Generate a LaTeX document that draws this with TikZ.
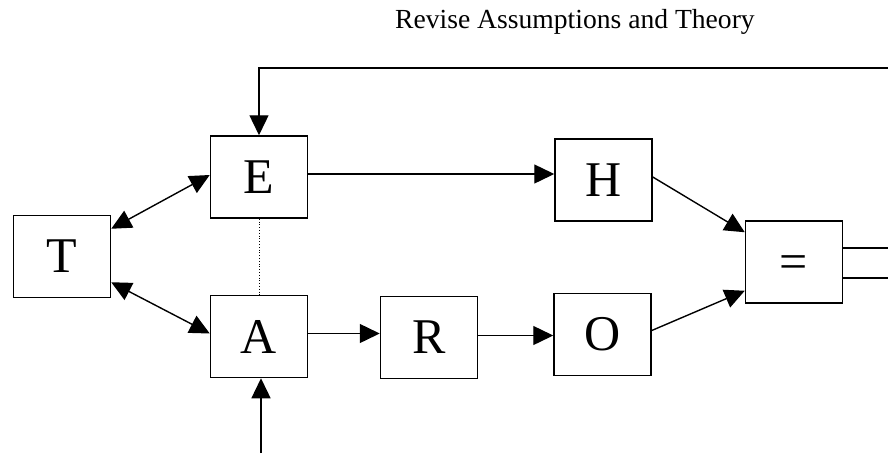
\documentclass[tikz,border=0pt]{standalone}
\usepackage{fontspec}
\setmainfont{Liberation Serif}
\usetikzlibrary{arrows.meta}
\tikzset{
  block/.style={draw, line width=1.5pt, minimum width=97pt, minimum height=82pt,
    inner sep=0pt, font=\fontsize{50}{56}\selectfont},
  link/.style={line width=1.4pt},
  arr/.style={link, -{Triangle[length=20pt,width=19pt]}},
  biarr/.style={link, {Triangle[length=20pt,width=19pt]}-{Triangle[length=20pt,width=19pt]}},
}
\begin{document}
\begin{tikzpicture}[x=1pt, y=-1pt]
  \useasboundingbox (0,0) rectangle (888,453);

  % caption of the feedback loop
  \node[anchor=base west, inner sep=0pt, font=\fontsize{27.6}{32}\selectfont] (title) at (395,28) {Revise Assumptions and Theory};

  % blocks
  \node[block] (T) at (62,256.5) {T};
  \node[block] (E) at (259,177) {E};
  \node[block] (A) at (259,336.5) {A};
  \node[block] (R) at (429,337.5) {R};
  \node[block] (H) at (603.5,180) {H};
  \node[block] (O) at (602.5,334.5) {O};
  \node[block] (Q) at (794,262) {\vphantom{E}=};

  % free ends of the open connectors
  \coordinate (fb) at (888,68);
  \coordinate (inA) at (261,453);
  \coordinate (outU) at (888,248);
  \coordinate (outL) at (888,278);

  % two-way links from T
  \draw[biarr] ([yshift=-14pt]T.north east) -- ([yshift=2pt]E.west);
  \draw[biarr] ([yshift=16pt]T.south east) -- ([yshift=3pt]A.west);

  % forward chain
  \draw[arr] ([yshift=3pt]E.east) -- ([yshift=3pt]E.east -| H.west);
  \draw[arr] ([yshift=3pt]A.east) -- ([yshift=3pt]A.east -| R.west);
  \draw[arr] ([yshift=2pt]R.east) -- ([yshift=2pt]R.east -| O.west);
  \draw[arr] ([yshift=3pt]H.east) -- ([yshift=-12pt]Q.north west);
  \draw[arr] ([yshift=4pt]O.east) -- ([yshift=13pt]Q.south west);

  % outputs of the comparison
  \draw[link] (Q.east |- outU) -- (outU);
  \draw[link] (Q.east |- outL) -- (outL);

  % feedback into E and input into A
  \draw[arr] (fb) -| (E.north);
  \draw[arr] (inA) -- (inA |- A.south);

  % dotted tie between E and A
  \draw[line width=0.8pt, dotted] (E.south) -- (A.north);
\end{tikzpicture}
\end{document}
